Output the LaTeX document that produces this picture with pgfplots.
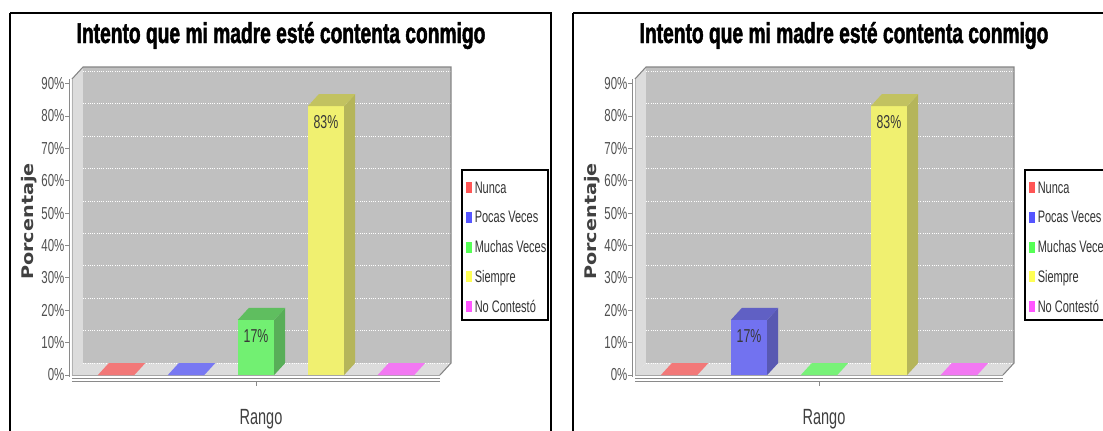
\documentclass[border=0pt]{standalone}
\usepackage{pgfplots}
\pgfplotsset{compat=1.18}
\usepackage{fontspec}
\setmainfont{Liberation Sans}
\newfontfamily\condf[FakeStretch=0.66]{Liberation Sans}
\newfontfamily\titlef[FakeStretch=0.67,FakeBold=1.6]{Liberation Sans}
\newfontfamily\porcf{DejaVu Sans}

\definecolor{wallback}{HTML}{C0C0C0}
\definecolor{walllight}{HTML}{DCDCDC}
\definecolor{edgegray}{HTML}{858585}
\definecolor{axisgray}{HTML}{8A8A8A}
\definecolor{tickgray}{HTML}{505050}
\definecolor{cNunca}{HTML}{FF5555}
\definecolor{cPocas}{HTML}{5555FF}
\definecolor{cMuchas}{HTML}{55FF55}
\definecolor{cSiempre}{HTML}{FFFF55}
\definecolor{cContesto}{HTML}{FF55FF}
% bar faces
\definecolor{nuncaS}{HTML}{F27878}
\definecolor{pocasS}{HTML}{7878F2}
\definecolor{muchasS}{HTML}{78F278}
\definecolor{contestoS}{HTML}{F278F2}
\definecolor{muchasF}{HTML}{72F072}
\definecolor{muchasSide}{HTML}{58AE58}
\definecolor{muchasTop}{HTML}{5FBE5F}
\definecolor{siempreF}{HTML}{F0F070}
\definecolor{siempreSide}{HTML}{B5B55A}
\definecolor{siempreTop}{HTML}{C2C260}
\definecolor{pocasF}{HTML}{7272F0}
\definecolor{pocasSide}{HTML}{5858B2}
\definecolor{pocasTop}{HTML}{6060C4}

% 3D bar: #1 category index, #2 value, #3 front, #4 side, #5 top
\newcommand\catbar[5]{%
  \pgfmathsetmacro\xl{#1-0.26}%
  \pgfmathsetmacro\xr{#1+0.26}%
  \pgfmathsetmacro\xld{#1-0.26+0.157}%
  \pgfmathsetmacro\xrd{#1+0.26+0.157}%
  \pgfmathsetmacro\vt{#2+3.7}%
  \edef\tmp{%
    \noexpand\addplot[fill=#3,draw=none,forget plot] coordinates {(\xl,0) (\xr,0) (\xr,#2) (\xl,#2)} -- cycle;
    \noexpand\addplot[fill=#4,draw=none,forget plot] coordinates {(\xr,0) (\xrd,3.7) (\xrd,\vt) (\xr,#2)} -- cycle;
    \noexpand\addplot[fill=#5,draw=none,forget plot] coordinates {(\xl,#2) (\xr,#2) (\xrd,\vt) (\xld,\vt)} -- cycle;
  }\tmp}
\newcommand\barlabel[2]{%
  \node[font=\condf\fontsize{14}{16}\selectfont, text=black!78, inner sep=0pt] at (axis cs:#1,#2) [yshift=-11.8pt] {#2\%};}

\newcommand\panelbg{%
  \fill[walllight] (axis cs:-0.63,0) -- (axis cs:-0.63,91.4) -- (axis cs:-0.473,95.1) -- (axis cs:-0.473,3.7) -- cycle;
  \fill[walllight] (axis cs:-0.63,0) -- (axis cs:4.63,0) -- (axis cs:4.787,3.7) -- (axis cs:-0.473,3.7) -- cycle;
  \fill[wallback] (axis cs:-0.473,3.7) rectangle (axis cs:4.787,95.1);
  \pgfplotsinvokeforeach{0,10,...,90}{\draw[white, densely dotted, line width=0.7pt] (axis cs:-0.473,{##1+3.7}) -- (axis cs:4.787,{##1+3.7});}
  \draw[edgegray, line width=0.8pt] (axis cs:-0.63,91.4) -- (axis cs:-0.473,95.1) -- (axis cs:4.787,95.1) -- (axis cs:4.787,3.7) -- (axis cs:4.63,0);
  \draw[black!35, line width=0.6pt] (axis cs:-0.63,0) -- (axis cs:4.63,0);
  \draw[black!30, line width=0.5pt] (axis cs:-0.63,0) -- (axis cs:-0.63,91.4);
  \draw[axisgray, line width=0.6pt] ([xshift=-2pt]axis cs:-0.63,-0.6) -- ([xshift=-2pt]axis cs:-0.63,91.4);
  \pgfplotsinvokeforeach{0,10,...,90}{\draw[axisgray, line width=0.6pt] ([xshift=-2pt]axis cs:-0.63,##1) -- ([xshift=-5pt]axis cs:-0.63,##1);}
  \draw[axisgray, line width=0.6pt] (axis cs:-0.63,-1.08) -- (axis cs:4.63,-1.08);
  \draw[axisgray, line width=0.6pt] (axis cs:-0.63,-2.01) -- (axis cs:4.63,-2.01);
  \draw[axisgray, line width=0.6pt] (axis cs:2,-2.01) -- ([yshift=-3.2pt]axis cs:2,-2.01);
}

\pgfplotsset{panelaxis/.style={
  anchor=south west,
  scale only axis, width=276pt, height=222pt,
  xmin=-0.63, xmax=4.63, ymin=0, ymax=91.4,
  clip=false,
  hide x axis,
  axis y line*=left,
  y axis line style={draw=none},
  major tick length=0pt,
  ytick={0,10,...,90},
  yticklabels={0\%,10\%,20\%,30\%,40\%,50\%,60\%,70\%,80\%,90\%},
  yticklabel style={font=\condf\fontsize{13}{15}\selectfont, text=tickgray, xshift=-2.2pt},
}}

\newcommand\panelframe[1]{% #1 = x offset in px
  \begin{scope}[xshift=#1*0.75pt]
    \draw[black, line width=1.5pt] (10,12.5) -- (10,440) (10,12.5) -- (551,12.5) -- (551,440);
    \node[font=\titlef\bfseries\fontsize{21.5}{24}\selectfont, anchor=base, inner sep=0pt] at (281,43) {Intento que mi madre esté contenta conmigo};
    \node[font=\porcf\bfseries\fontsize{12}{14}\selectfont, text=black!75, rotate=90, xscale=1.2, inner sep=0pt] at (29,221.5) {Porcentaje};
    \node[font=\condf\fontsize{16.5}{18}\selectfont, text=black!75, anchor=base, inner sep=0pt] at (261,424) {Rango};
    \draw[black, line width=0.9pt] (462,170) rectangle (548,320);
    \foreach \c/\n [count=\i from 0] in {cNunca/Nunca, cPocas/Pocas Veces, cMuchas/Muchas Veces, cSiempre/Siempre, cContesto/No Contestó}{
      \pgfmathsetmacro\yy{187.5+29.8*\i}
      \fill[\c] (466,\yy-5.5) rectangle (472,\yy+5.5);
      \node[font=\condf\fontsize{12.5}{14}\selectfont, text=black!80, anchor=base west, inner sep=0pt] at (474.5,\yy+5.5) {\n};
    }
  \end{scope}}

\begin{document}
\begin{tikzpicture}
\useasboundingbox (0,0) rectangle (827.25pt,322.5pt);
\clip (0,0) rectangle (827.25pt,322.5pt);
\fill[white] (0,0) rectangle (827.25pt,322.5pt);

% ---------- left panel ----------
\begin{axis}[panelaxis, at={(54pt,41.25pt)}]
  \panelbg
  \catbar{0}{0}{nuncaS}{nuncaS}{nuncaS}
  \catbar{1}{0}{pocasS}{pocasS}{pocasS}
  \catbar{2}{17}{muchasF}{muchasSide}{muchasTop}
  \catbar{3}{83}{siempreF}{siempreSide}{siempreTop}
  \catbar{4}{0}{contestoS}{contestoS}{contestoS}
  \barlabel{2}{17}
  \barlabel{3}{83}
\end{axis}

% ---------- right panel ----------
\begin{axis}[panelaxis, at={(476.25pt,41.25pt)}]
  \panelbg
  \catbar{0}{0}{nuncaS}{nuncaS}{nuncaS}
  \catbar{1}{17}{pocasF}{pocasSide}{pocasTop}
  \catbar{2}{0}{muchasS}{muchasS}{muchasS}
  \catbar{3}{83}{siempreF}{siempreSide}{siempreTop}
  \catbar{4}{0}{contestoS}{contestoS}{contestoS}
  \barlabel{1}{17}
  \barlabel{3}{83}
\end{axis}

\begin{scope}[yshift=322.5pt, x=0.75pt, y=-0.75pt]
  \panelframe{0}
  \panelframe{563}
\end{scope}
\end{tikzpicture}
\end{document}
